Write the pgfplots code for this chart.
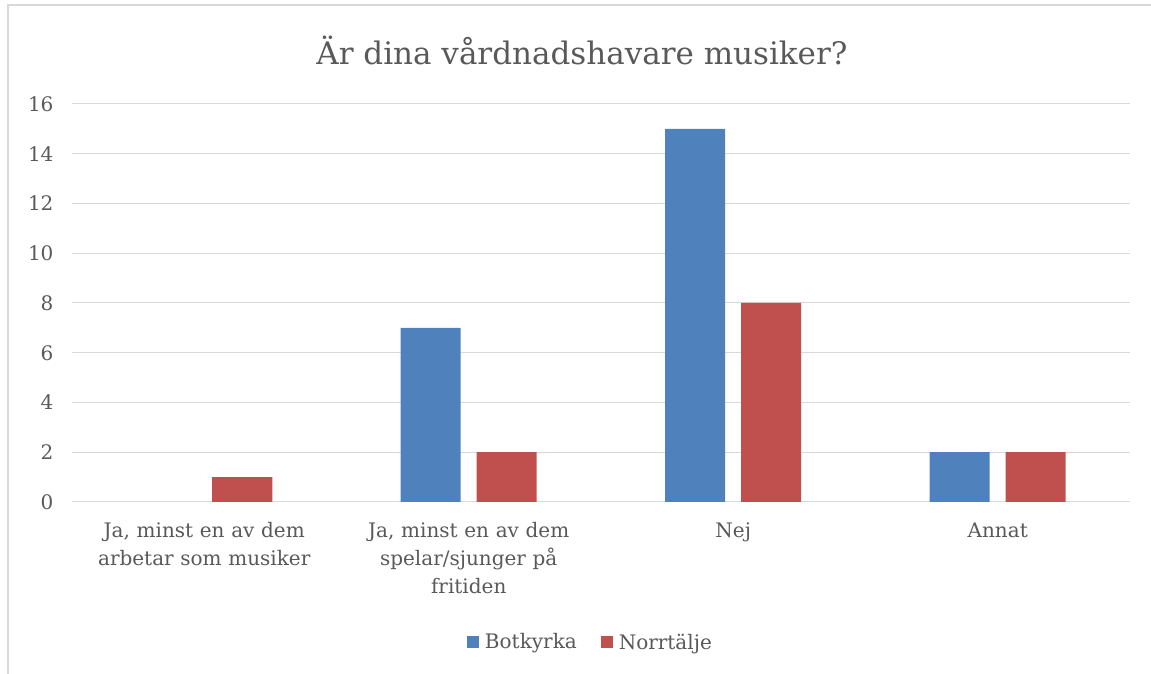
\documentclass[border=0pt]{standalone}
\usepackage{pgfplots}
\pgfplotsset{compat=1.18}
\usepackage{fontspec}
\setmainfont{DejaVu Serif}
\definecolor{bot}{HTML}{4F81BD}
\definecolor{nor}{HTML}{C0504D}
\definecolor{gridc}{HTML}{D9D9D9}
\definecolor{txt}{HTML}{595959}
\begin{document}
\begin{tikzpicture}
\useasboundingbox (0pt,0pt) rectangle (1151pt,674pt);
% ram (bara topp och vänster syns)
\draw[gridc, line width=1.2pt] (8pt,0pt) -- (8pt,669pt) -- (1151pt,669pt);
\node[txt, font=\fontsize{31}{36}\selectfont] at (582pt,624pt) {Är dina vårdnadshavare musiker?};
\begin{axis}[
    at={(72pt,172pt)}, anchor=south west,
    scale only axis, width=1058pt, height=398pt,
    ybar=16pt, bar width=60pt,
    xmin=-0.5, xmax=3.5, ymin=0, ymax=16,
    ytick={0,2,...,16},
    xtick={0,1,2,3},
    xticklabels={{Ja, minst en av dem\\arbetar som musiker},
                 {Ja, minst en av dem\\spelar/sjunger på\\fritiden},
                 {Nej},{Annat}},
    xticklabel style={align=center, text width=260pt, font=\fontsize{20}{28}\selectfont, txt, yshift=-17pt},
    yticklabel style={font=\fontsize{20}{22}\selectfont, txt, xshift=-15pt},
    /pgf/number format/assume math mode=true,
    major tick length=0pt,
    ymajorgrids, grid style={gridc, line width=1pt},
    axis x line*=bottom,
    axis y line*=left,
    x axis line style={draw=gridc, line width=1pt, -},
    y axis line style={draw=none},
    legend style={at={(0.49,-0.352)}, anchor=center, draw=none,
        legend columns=2, font=\fontsize{20}{22}\selectfont, text=txt,
        /tikz/every odd column/.append style={column sep=4pt},
        /tikz/every even column/.append style={column sep=22pt}},
    legend image code/.code={\fill[#1] (0pt,-6pt) rectangle (12pt,6pt);},
]
\addplot[fill=bot, draw=none] coordinates {(1,7) (2,15) (3,2)};
\addplot[fill=nor, draw=none] coordinates {(0,1) (1,2) (2,8) (3,2)};
\legend{Botkyrka, Norrtälje}
\end{axis}
\end{tikzpicture}
\end{document}
